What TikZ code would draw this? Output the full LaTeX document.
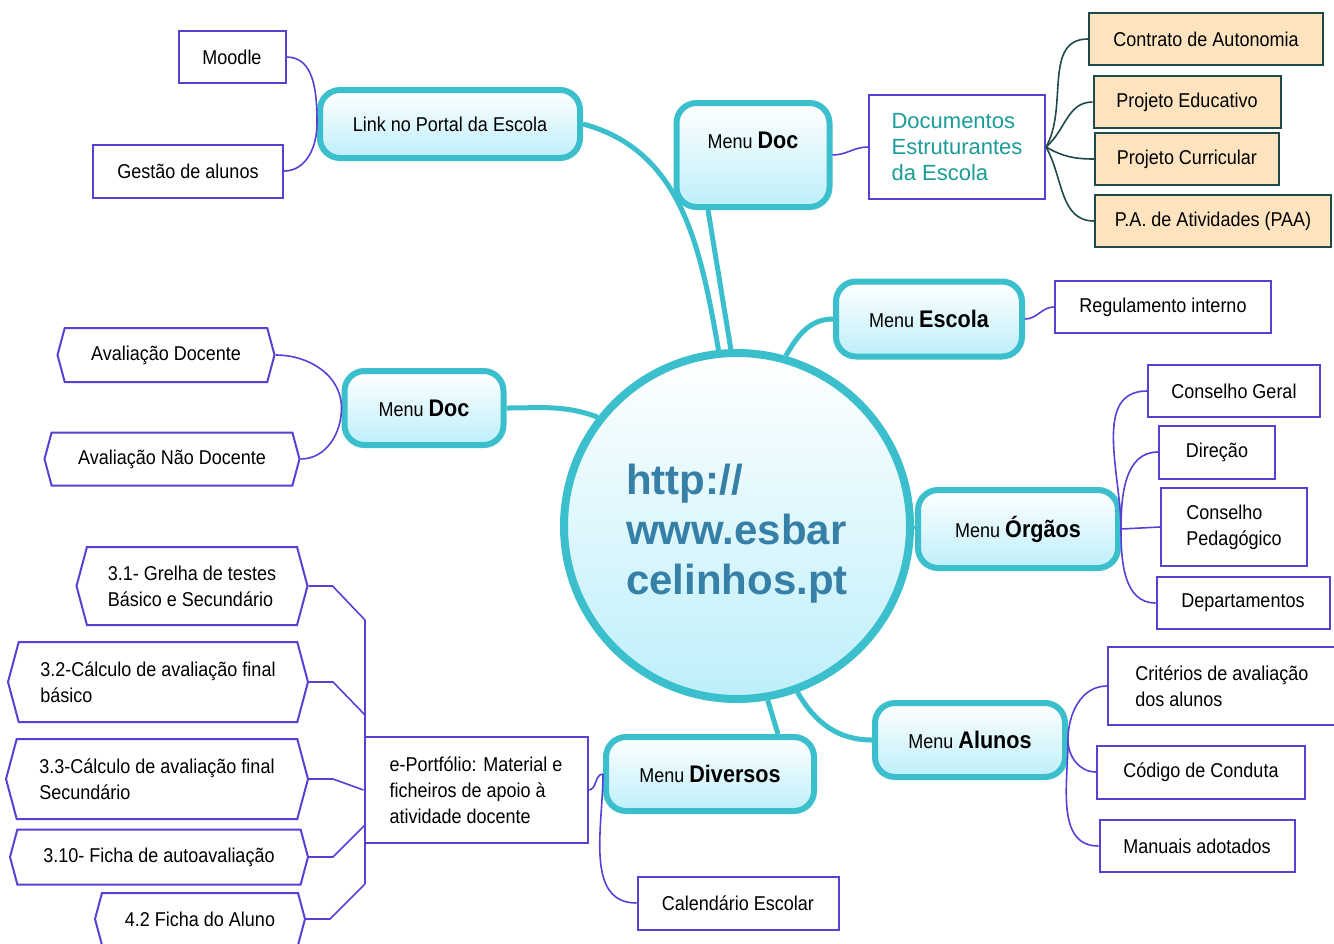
\documentclass[tikz,border=0pt]{standalone}
\usepackage{fontspec}
\setmainfont{Liberation Sans}[FakeStretch=0.9]
\newfontfamily\docfont{Liberation Sans}
\usetikzlibrary{shapes.symbols}

\definecolor{hubline}{HTML}{3BBFCC}
\definecolor{menufill}{HTML}{BDEFFA}
\definecolor{twigline}{HTML}{5A3FD5}
\definecolor{docline}{HTML}{1F4A4A}
\definecolor{docfill}{HTML}{FDE4BF}
\definecolor{docteal}{HTML}{1A9C98}
\definecolor{hubtext}{HTML}{367FA7}

\tikzset{
  menu/.style={rectangle, rounded corners=10pt, draw=hubline, line width=3pt, top color=white, bottom color=menufill, font=\fontsize{10}{12}\selectfont, inner sep=2pt},
  leaf/.style={rectangle, draw=twigline, line width=1pt, fill=white, font=\fontsize{10}{13}\selectfont, align=left, inner sep=2pt},
  hexleaf/.style={leaf, signal, signal to=east and west, signal pointer angle=150},
  docbox/.style={rectangle, draw=docline, line width=1pt, fill=docfill, font=\fontsize{10}{13}\selectfont, inner sep=2pt},
  trunk/.style={draw=hubline, line width=2.5pt},
  twig/.style={draw=twigline, line width=0.8pt},
  docwire/.style={draw=docline, line width=0.8pt}
}
\newcommand{\menuword}[1]{{\fontsize{12}{12}\selectfont\bfseries #1}}

\begin{document}
\begin{tikzpicture}[x=0.5pt, y=0.5pt]
    \useasboundingbox (0,0) rectangle (1334,-943);
    \clip (0,0) rectangle (1334,-943);

    \node[circle, draw=hubline, line width=4pt, top color=white, bottom color=menufill, minimum size=173pt, align=left, text=hubtext, font=\docfont\bfseries\fontsize{21}{25}\selectfont] (hub) at (737,-526) {\rule{0pt}{23pt}http://\\www.esbar\\celinhos.pt};

    \node[menu, minimum width=130pt, minimum height=34pt] (link) at (450,-124) {Link no Portal da Escola};
    \node[leaf, minimum width=53.5pt, minimum height=26pt] (moodle) at (232,-57) {Moodle};
    \node[leaf, minimum width=95pt, minimum height=26.5pt] (gestao) at (188,-171) {Gestão de alunos};

    \node[menu, minimum width=76.5pt, minimum height=52pt, text depth=15pt] (doctop) at (753,-155) {Menu \menuword{Doc}};
    \node[leaf, minimum width=88pt, minimum height=52pt, text=docteal, font=\docfont\fontsize{11}{13}\selectfont] (docs) at (957,-147) {Documentos\\Estruturantes\\da Escola};
    \node[docbox, minimum width=117pt, minimum height=26pt] (contrato) at (1206,-39) {Contrato de Autonomia};
    \node[docbox, minimum width=93.5pt, minimum height=26pt] (educativo) at (1187,-102) {Projeto Educativo};
    \node[docbox, minimum width=92pt, minimum height=26pt] (curricular) at (1187,-159) {Projeto Curricular};
    \node[docbox, minimum width=118pt, minimum height=26pt] (paa) at (1213,-221) {P.A. de Atividades (PAA)};

    \node[menu, minimum width=93pt, minimum height=37.5pt] (escola) at (929,-319) {Menu \menuword{Escola}};
    \node[leaf, minimum width=108pt, minimum height=26pt] (regul) at (1163,-307) {Regulamento interno};

    \node[menu, minimum width=79.5pt, minimum height=37pt] (docleft) at (424,-408) {Menu \menuword{Doc}};
    \node[hexleaf, minimum width=108.5pt, minimum height=27pt] (avdoc) at (166,-355) {Avaliação Docente};
    \node[hexleaf, minimum width=127.5pt, minimum height=26.5pt] (avnao) at (172,-459) {Avaliação Não Docente};

    \node[menu, minimum width=100pt, minimum height=39pt] (orgaos) at (1018,-529) {Menu \menuword{Órgãos}};
    \node[leaf, minimum width=86pt, minimum height=26pt] (cgeral) at (1234,-391) {Conselho Geral};
    \node[leaf, minimum width=58pt, minimum height=26.5pt] (direcao) at (1217,-452) {Direção};
    \node[leaf, minimum width=73pt, minimum height=39pt] (cpedag) at (1234,-527) {Conselho\\Pedagógico};
    \node[leaf, minimum width=86.5pt, minimum height=26pt] (deptos) at (1243,-603) {Departamentos};

    \node[menu, minimum width=95pt, minimum height=37pt] (alunos) at (970,-740) {Menu \menuword{Alunos}};
    \node[leaf, minimum width=114pt, minimum height=39pt] (criterios) at (1222,-686) {Critérios de avaliação\\dos alunos};
    \node[leaf, minimum width=104pt, minimum height=26.5pt] (codigo) at (1201,-772) {Código de Conduta};
    \node[leaf, minimum width=97.5pt, minimum height=26pt] (manuais) at (1197,-846) {Manuais adotados};

    \node[menu, minimum width=104pt, minimum height=37pt] (diversos) at (710,-774) {Menu \menuword{Diversos}};
    \node[leaf, minimum width=111.5pt, minimum height=53pt] (eport) at (476,-790) {e-Portfólio: Material e\\ficheiros de apoio à\\atividade docente};
    \node[leaf, minimum width=100.5pt, minimum height=26.5pt] (calend) at (738,-903) {Calendário Escolar};

    \node[hexleaf, minimum width=115.5pt, minimum height=39pt] (g31) at (192,-586) {3.1- Grelha de testes\\Básico e Secundário};
    \node[hexleaf, minimum width=150pt, minimum height=40pt] (g32) at (158,-682) {3.2-Cálculo de avaliação final\\básico};
    \node[hexleaf, minimum width=151pt, minimum height=40pt] (g33) at (157,-779) {3.3-Cálculo de avaliação final\\Secundário};
    \node[hexleaf, minimum width=149pt, minimum height=27.5pt] (g310) at (159,-857) {3.10- Ficha de autoavaliação};
    \node[hexleaf, minimum width=105pt, minimum height=26pt] (g42) at (200,-919) {4.2 Ficha do Aluno};

    \coordinate (bus1) at (365,-620);
    \coordinate (bus2) at (365,-715);
    \coordinate (bus4) at (365,-825);
    \coordinate (bus5) at (365,-884);

    \draw[trunk] (link.east) to[out=-15,in=100] (hub.96);
    \draw[trunk] ([xshift=-22.5pt]doctop.south) -- (hub.92);
    \draw[trunk] (hub.74) to[out=60,in=180] (escola.west);
    \draw[trunk] (docleft.east) to[out=0,in=160] (hub.142);
    \draw[trunk] (hub.east) -- (orgaos.west);
    \draw[trunk] (hub.-70) to[out=-60,in=180] (alunos.west);
    \draw[trunk] (hub.-80) -- ([xshift=34pt]diversos.north);

    \draw[twig] (link.west) to[out=90,in=0] (moodle.east);
    \draw[twig] (link.west) to[out=-90,in=0] (gestao.east);
    \draw[twig] (doctop.east) to[out=0,in=180] (docs.west);
    \draw[docwire] (docs.east) to[out=60,in=180] (contrato.west);
    \draw[docwire] (docs.east) to[out=40,in=180] (educativo.west);
    \draw[docwire] (docs.east) to[out=-30,in=180] (curricular.west);
    \draw[docwire] (docs.east) to[out=-60,in=180] (paa.west);
    \draw[twig] (escola.east) to[out=0,in=180] (regul.west);
    \draw[twig] (docleft.west) to[out=90,in=0] (avdoc.east);
    \draw[twig] (docleft.west) to[out=-90,in=0] (avnao.east);
    \draw[twig] (orgaos.east) to[out=90,in=180] (cgeral.west);
    \draw[twig] (orgaos.east) to[out=90,in=180] (direcao.west);
    \draw[twig] (orgaos.east) -- (cpedag.west);
    \draw[twig] (orgaos.east) to[out=-90,in=180] (deptos.west);
    \draw[twig] (alunos.east) to[out=90,in=180] (criterios.west);
    \draw[twig] (alunos.east) to[out=-90,in=180] (codigo.west);
    \draw[twig] (alunos.east) to[out=-90,in=180] (manuais.west);
    \draw[twig] (diversos.west) to[out=180,in=0] (eport.east);
    \draw[twig] (diversos.west) to[out=-90,in=180] (calend.west);

    \draw[twig] (bus1) -- (bus5);
    \draw[twig] (g31.east) -- ++(24,0) -- (bus1);
    \draw[twig] (g32.east) -- ++(24,0) -- (bus2);
    \draw[twig] (g33.east) -- ++(24,0) -- (eport.west);
    \draw[twig] (g310.east) -- ++(24,0) -- (bus4);
    \draw[twig] (g42.east) -- ++(24,0) -- (bus5);
\end{tikzpicture}
\end{document}
